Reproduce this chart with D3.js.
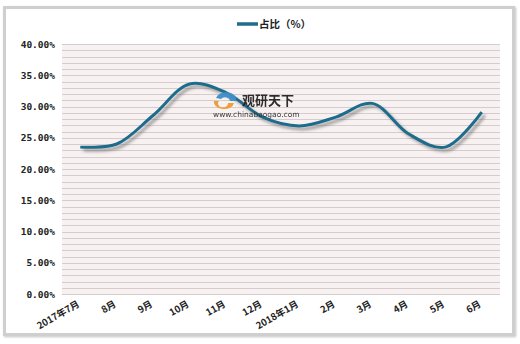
<!DOCTYPE html>
<html>
<head>
<meta charset="utf-8">
<script src="https://cdn.jsdelivr.net/npm/d3@7"></script>
<style>
  body { margin: 0; background: #fff; }
  svg { display: block; }
</style>
</head>
<body>
<div id="chart"></div>
<script>
// 数据
const categories = ["2017年7月", "8月", "9月", "10月", "11月", "12月", "2018年1月", "2月", "3月", "4月", "5月", "6月"];
const shares = [23.5, 24.0, 28.6, 33.6, 32.2, 28.3, 26.9, 28.3, 30.5, 25.6, 23.5, 29.1];
const yTicks = [0, 5, 10, 15, 20, 25, 30, 35, 40];
const seriesName = "占比（%）";

const width = 520, height = 344;
const plot = { left: 62, right: 500, top: 44, bottom: 294 };

const svg = d3.select("#chart").append("svg")
    .attr("width", width)
    .attr("height", height);

const defs = svg.append("defs");

// 线条阴影
const shadow = defs.append("filter")
    .attr("id", "line-shadow")
    .attr("x", "-10%").attr("y", "-20%")
    .attr("width", "130%").attr("height", "150%");
shadow.append("feDropShadow")
    .attr("dx", 3).attr("dy", 3)
    .attr("stdDeviation", 1.4)
    .attr("flood-color", "#555")
    .attr("flood-opacity", 0.55);

// 外框阴影
const frameShadow = defs.append("filter").attr("id", "frame-shadow");
frameShadow.append("feDropShadow")
    .attr("dx", 1).attr("dy", 1)
    .attr("stdDeviation", 1.2)
    .attr("flood-color", "#999")
    .attr("flood-opacity", 0.6);

// 外框
svg.append("rect")
    .attr("x", 4.5).attr("y", 7.5)
    .attr("width", 509).attr("height", 327)
    .attr("fill", "#fff")
    .attr("stroke", "#cfcfcf")
    .attr("stroke-width", 3)
    .attr("filter", "url(#frame-shadow)");

const x = d3.scaleBand()
    .domain(categories)
    .range([plot.left, plot.right]);

const y = d3.scaleLinear()
    .domain([0, 40])
    .range([plot.bottom, plot.top]);

// 背景
svg.append("rect")
    .attr("x", plot.left).attr("y", plot.top)
    .attr("width", plot.right - plot.left)
    .attr("height", plot.bottom - plot.top)
    .attr("fill", "#f8f1f1");

// 网格线，每1%一条
svg.append("g")
    .selectAll("line")
    .data(d3.range(0, 41, 1))
    .enter()
    .append("line")
    .attr("x1", plot.left).attr("x2", plot.right)
    .attr("y1", d => Math.round(y(d)) + 0.5)
    .attr("y2", d => Math.round(y(d)) + 0.5)
    .attr("stroke", "#d6cccd")
    .attr("stroke-width", 1);

// Y轴
const yAxis = svg.append("g")
    .attr("transform", `translate(${plot.left},0)`)
    .call(d3.axisLeft(y).tickValues(yTicks).tickSize(0).tickPadding(7)
        .tickFormat(d => d.toFixed(2) + "%"));
yAxis.select(".domain").remove();
yAxis.selectAll("text")
    .attr("fill", "#222")
    .style("font-family", "'DejaVu Sans Mono', monospace")
    .style("font-size", "9.5px")
    .style("font-weight", "bold");

// X轴
const xAxis = svg.append("g")
    .attr("transform", `translate(0,${plot.bottom})`)
    .call(d3.axisBottom(x).tickSize(0).tickPadding(0));
xAxis.select(".domain").remove();
xAxis.selectAll("text")
    .attr("fill", "#222")
    .style("font-family", "'Noto Sans CJK SC', sans-serif")
    .style("font-size", "9.5px")
    .style("font-weight", "bold")
    .attr("text-anchor", "end")
    .attr("dy", 0)
    .attr("transform", "translate(0,12) rotate(-30)");

// 折线
const line = d3.line()
    .x((d, i) => x(categories[i]) + x.bandwidth() / 2)
    .y(d => y(d))
    .curve(d3.curveCatmullRom.alpha(0.5));

svg.append("path")
    .datum(shares)
    .attr("d", line)
    .attr("fill", "none")
    .attr("stroke", "#1f6c8c")
    .attr("stroke-width", 3)
    .attr("stroke-linecap", "butt")
    .attr("filter", "url(#line-shadow)");

// 图例
const legend = svg.append("g")
    .attr("transform", "translate(237,24)");
legend.append("line")
    .attr("x1", 0).attr("x2", 21)
    .attr("y1", 0).attr("y2", 0)
    .attr("stroke", "#1f6c8c")
    .attr("stroke-width", 3.5);
legend.append("text")
    .attr("x", 22).attr("y", 4)
    .style("font-family", "'Noto Sans CJK SC', sans-serif")
    .style("font-size", "10.5px")
    .style("font-weight", "bold")
    .attr("fill", "#222")
    .text(seriesName);

// 水印
const mark = svg.append("g")
    .attr("transform", "translate(213,100)")
    .attr("opacity", 0.95);
mark.append("path")
    .attr("d", "M1,1 A10,7 0 1 0 21,3 L15,3 A5,4 0 1 1 6,1 Z")
    .attr("fill", "#f29a2e");
mark.append("path")
    .attr("d", "M3,-2 A10,7 0 0 1 23,1 L17,1 A5,4 0 0 0 8,-1 Z")
    .attr("fill", "#3d8fc7");
mark.append("text")
    .attr("x", 29).attr("y", 5)
    .style("font-family", "'Noto Sans CJK SC', sans-serif")
    .style("font-size", "13px")
    .style("font-weight", "bold")
    .attr("fill", "#222")
    .text("观研天下");
mark.append("text")
    .attr("x", 0).attr("y", 17)
    .style("font-family", "'DejaVu Sans', sans-serif")
    .style("font-size", "7.5px")
    .attr("fill", "#333")
    .text("www.chinabaogao.com");
</script>
</body>
</html>
